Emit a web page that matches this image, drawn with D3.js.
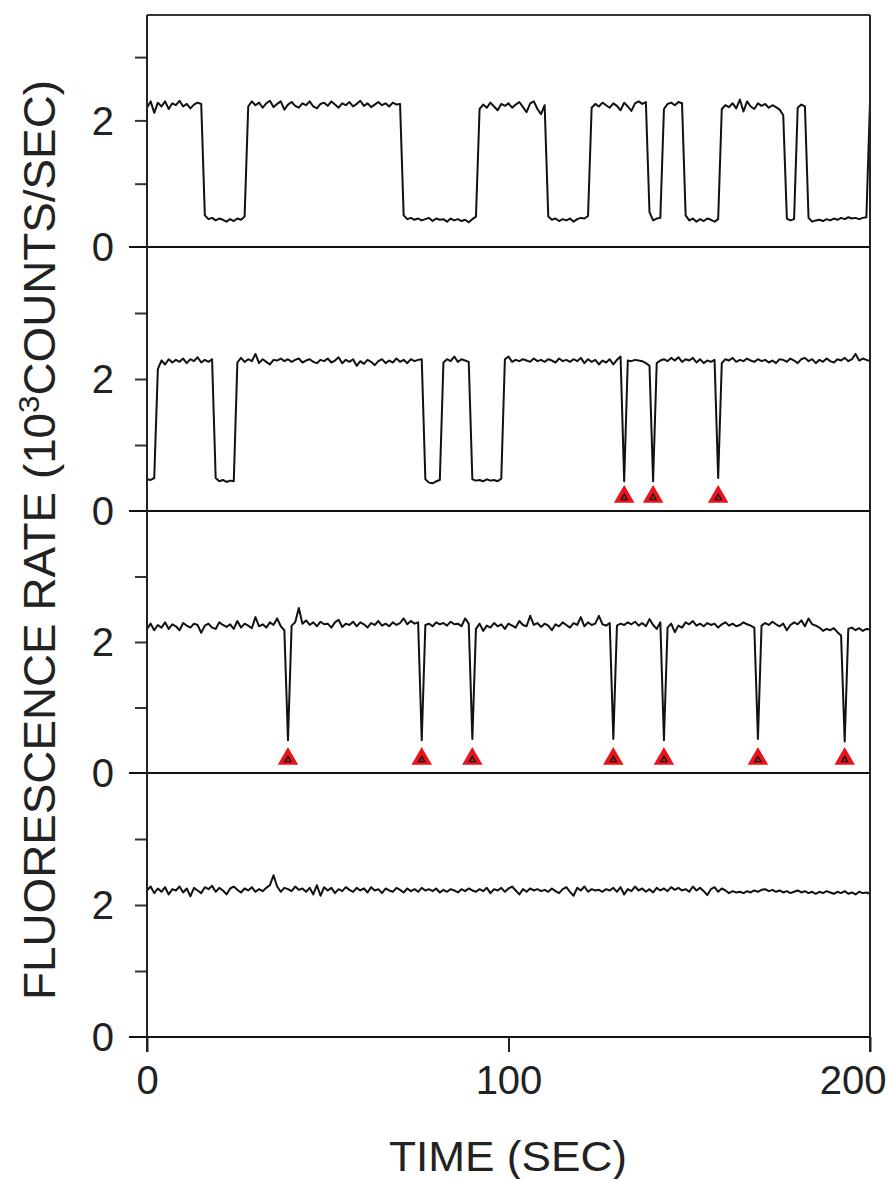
<!DOCTYPE html>
<html>
<head>
<meta charset="utf-8">
<script src="https://cdn.jsdelivr.net/npm/d3@7"></script>
<style>
  html, body { margin: 0; padding: 0; background: #fff; }
  svg { display: block; }
  text { font-family: "Liberation Sans", Arial, sans-serif; fill: #222; }
</style>
</head>
<body>
<svg id="chart" width="888" height="1179"></svg>
<script>
// Time axis (seconds), one sample per second
const timeTicks = [0, 100, 200];
const yTickLabels = { 0: "0", 2: "2" };

// Fluorescence traces, 10^3 counts/sec, t = 0..200 s
const trace1 = [
  2.20,2.30,2.12,2.28,2.22,2.30,2.18,2.27,2.24,2.31,2.22,2.26,2.19,2.25,2.28,2.26,
  0.50,0.44,0.46,0.42,0.45,0.43,0.40,0.44,0.41,0.45,0.43,0.48,
  2.22,2.30,2.24,2.28,2.20,2.27,2.31,2.21,2.26,2.30,2.17,2.25,2.29,2.23,2.20,2.27,
  2.24,2.30,2.22,2.19,2.26,2.28,2.23,2.30,2.25,2.20,2.27,2.24,2.29,2.22,2.26,2.31,
  2.23,2.27,2.21,2.25,2.29,2.24,2.27,2.22,2.28,2.25,2.26,
  0.50,0.44,0.46,0.43,0.45,0.42,0.44,0.46,0.41,0.45,0.43,0.44,0.40,0.45,0.42,0.44,
  0.41,0.43,0.39,0.44,0.48,
  2.18,2.25,2.20,2.28,2.22,2.16,2.26,2.23,2.27,2.20,2.25,2.29,2.21,2.13,2.27,2.30,
  2.18,2.10,2.24,
  0.48,0.43,0.45,0.41,0.44,0.42,0.45,0.40,0.44,0.46,0.45,0.49,
  2.20,2.26,2.22,2.28,2.24,2.20,2.27,2.23,2.16,2.28,2.22,2.15,2.27,2.30,2.26,2.29,
  0.55,0.42,0.45,0.46,
  2.18,2.26,2.28,2.24,2.29,2.27,
  0.50,0.42,0.45,0.40,0.44,0.41,0.45,0.43,0.40,0.44,
  2.18,2.24,2.21,2.27,2.19,2.33,2.14,2.30,2.22,2.18,2.27,2.23,2.26,2.20,2.24,2.21,
  2.17,2.08,
  0.45,0.42,0.44,
  2.20,2.25,2.22,
  0.46,0.40,0.42,0.43,0.41,0.44,0.42,0.45,0.43,0.46,0.44,0.47,0.45,0.46,0.44,0.46,
  0.47,
  2.30
];

const trace2 = [
  0.48,0.47,0.50,
  2.15,2.28,2.22,2.30,2.25,2.29,2.26,2.31,2.24,2.30,2.27,2.33,2.25,2.29,2.26,2.30,
  0.50,0.45,0.47,0.44,0.46,0.45,
  2.25,2.32,2.26,2.30,2.27,2.38,2.24,2.30,2.26,2.22,2.29,2.28,2.31,2.27,2.30,2.26,
  2.29,2.31,2.25,2.28,2.30,2.26,2.24,2.29,2.27,2.31,2.25,2.28,2.33,2.24,2.29,2.26,
  2.30,2.20,2.27,2.23,2.29,2.26,2.21,2.27,2.30,2.24,2.28,2.25,2.31,2.26,2.29,2.24,
  2.30,2.27,2.29,2.30,
  0.48,0.43,0.42,0.45,0.47,
  2.25,2.30,2.27,2.34,2.26,2.30,2.28,2.26,
  0.48,0.46,0.47,0.45,0.48,0.46,0.47,0.45,0.49,
  2.30,2.34,2.26,2.29,2.27,2.30,2.28,2.26,2.31,2.27,2.29,2.26,2.30,2.28,2.25,2.31,
  2.27,2.29,2.26,2.30,2.27,2.32,2.24,2.30,2.26,2.29,2.22,2.28,2.25,2.30,2.22,2.29,
  2.34,
  0.45,
  2.28,2.27,2.29,2.28,2.27,2.24,2.20,
  0.45,
  2.24,2.28,2.30,2.27,2.32,2.28,2.33,2.26,2.30,2.28,2.32,2.25,2.30,2.24,2.28,2.26,
  2.29,
  0.50,
  2.24,2.30,2.28,2.32,2.26,2.29,2.27,2.31,2.28,2.26,2.30,2.27,2.29,2.25,2.28,2.24,
  2.30,2.29,2.26,2.31,2.28,2.24,2.30,2.32,2.27,2.30,2.24,2.29,2.26,2.31,2.27,2.25,
  2.30,2.28,2.32,2.27,2.30,2.38,2.28,2.31,2.29,2.27
];

const trace3 = [
  2.20,2.28,2.18,2.26,2.22,2.30,2.20,2.27,2.24,2.18,2.29,2.25,2.22,2.28,2.26,2.14,
  2.25,2.28,2.22,2.20,2.30,2.26,2.23,2.27,2.20,2.32,2.22,2.28,2.25,2.21,2.38,2.24,
  2.27,2.22,2.30,2.26,2.36,2.24,2.18,
  0.50,
  2.25,2.30,2.52,2.28,2.33,2.26,2.30,2.24,2.31,2.27,2.28,2.22,2.30,2.34,2.23,2.28,
  2.26,2.31,2.24,2.30,2.27,2.22,2.29,2.26,2.32,2.25,2.28,2.24,2.30,2.26,2.29,2.36,
  2.27,2.32,2.28,2.30,
  0.50,
  2.26,2.28,2.24,2.30,2.27,2.29,2.25,2.31,2.27,2.28,2.24,2.36,2.28,
  0.52,
  2.20,2.28,2.17,2.25,2.22,2.29,2.24,2.27,2.20,2.28,2.25,2.22,2.32,2.26,2.24,2.40,
  2.26,2.29,2.23,2.28,2.25,2.18,2.27,2.24,2.30,2.26,2.22,2.29,2.26,2.38,2.24,2.30,
  2.26,2.28,2.40,2.27,2.25,2.29,
  0.52,
  2.25,2.28,2.26,2.30,2.27,2.31,2.25,2.29,2.24,2.35,2.26,2.20,2.30,
  0.50,
  2.22,2.28,2.15,2.25,2.22,2.30,2.27,2.32,2.25,2.28,2.24,2.29,2.26,2.28,2.22,2.27,
  2.30,2.25,2.28,2.24,2.26,2.30,2.27,2.25,2.22,
  0.52,
  2.25,2.29,2.26,2.31,2.27,2.24,2.28,2.18,2.26,2.30,2.27,2.33,2.24,2.36,2.27,2.25,
  2.22,2.17,2.20,2.18,2.21,2.15,2.10,
  0.48,
  2.20,2.22,2.18,2.21,2.17,2.20,2.19
];

const trace4 = [
  2.22,2.28,2.18,2.25,2.20,2.27,2.16,2.24,2.22,2.28,2.19,2.25,2.13,2.26,2.22,2.18,
  2.27,2.24,2.29,2.20,2.26,2.22,2.16,2.25,2.28,2.23,2.19,2.25,2.22,2.27,2.20,2.24,
  2.21,2.26,2.30,2.45,2.28,2.20,2.26,2.24,2.21,2.28,2.23,2.25,2.20,2.26,2.16,2.30,
  2.14,2.27,2.22,2.26,2.18,2.24,2.21,2.27,2.23,2.20,2.26,2.22,2.25,2.19,2.27,2.22,
  2.24,2.18,2.25,2.22,2.20,2.26,2.23,2.19,2.25,2.21,2.24,2.20,2.26,2.22,2.24,2.21,
  2.25,2.19,2.23,2.20,2.24,2.22,2.19,2.24,2.21,2.25,2.22,2.20,2.24,2.21,2.26,2.18,
  2.24,2.22,2.26,2.20,2.25,2.28,2.22,2.16,2.24,2.20,2.25,2.22,2.24,2.21,2.23,2.20,
  2.25,2.21,2.18,2.24,2.27,2.20,2.14,2.26,2.22,2.28,2.20,2.24,2.22,2.23,2.20,2.24,
  2.22,2.26,2.20,2.27,2.16,2.24,2.21,2.28,2.22,2.25,2.20,2.24,2.19,2.26,2.22,2.25,
  2.21,2.27,2.23,2.26,2.22,2.24,2.20,2.28,2.22,2.26,2.21,2.15,2.24,2.27,2.20,2.25,
  2.22,2.18,2.21,2.19,2.20,2.18,2.21,2.19,2.22,2.20,2.23,2.24,2.21,2.23,2.20,2.22,
  2.19,2.21,2.18,2.20,2.22,2.19,2.21,2.18,2.20,2.17,2.20,2.18,2.21,2.19,2.17,2.20,
  2.18,2.21,2.17,2.19,2.16,2.20,2.18,2.19,2.17
];

// Marked single-step events (time in s)
const marks2 = [132, 140, 158];
const marks3 = [39, 76, 90, 129, 143, 169, 193];
const markLevel = 0.2;

const traces = [trace1, trace2, trace3, trace4];
const marks = [[], marks2, marks3, []];

// Panel geometry: zero line, top edge and visible maximum for each strip
const panels = [
  { zero: 247, top: 15,  max: 3.665 },
  { zero: 511, top: 247, max: 4 },
  { zero: 773, top: 511, max: 4 },
  { zero: 1037, top: 773, max: 4 }
];

const svg = d3.select("#chart");
const xLeft = 147, xRight = 870;
const x = d3.scaleLinear().domain([0, 200]).range([xLeft, xRight]);

panels.forEach((p, i) => {
  const y = d3.scaleLinear().domain([0, p.max]).range([p.zero, p.top]);
  const g = svg.append("g");

  // left axis with minor ticks; only 0 and 2 carry labels
  const ticks = [1, 2, 3].filter(v => v < p.max);
  const axis = d3.axisLeft(y)
    .tickValues(ticks)
    .tickSize(12)
    .tickPadding(22)
    .tickFormat(() => "");
  const ag = g.append("g").attr("transform", `translate(${xLeft},0)`).call(axis);
  ag.select(".domain").remove();
  ag.selectAll(".tick line").attr("stroke", "#333").attr("stroke-width", 2);

  // tick labels
  [0, 2].forEach(v => {
    g.append("text")
      .attr("x", 114)
      .attr("y", y(v))
      .attr("dy", "0.36em")
      .attr("text-anchor", "end")
      .attr("font-size", 40)
      .text(yTickLabels[v]);
  });

  // zero line running the full width, extending left as the 0 tick
  g.append("line")
    .attr("x1", 129).attr("x2", xRight)
    .attr("y1", y(0)).attr("y2", y(0))
    .attr("stroke", "#111").attr("stroke-width", 2);

  // trace
  const line = d3.line()
    .x((d, t) => x(t))
    .y(d => y(d));
  g.append("path")
    .datum(traces[i])
    .attr("d", line)
    .attr("fill", "none")
    .attr("stroke", "#111")
    .attr("stroke-width", 2)
    .attr("stroke-linejoin", "round");

  // event markers
  const tri = d3.symbol().type(d3.symbolTriangle);
  marks[i].forEach(t => {
    const cx = x(t), cy = y(markLevel) - 1;
    g.append("path")
      .attr("d", tri.size(140)())
      .attr("transform", `translate(${cx},${cy})`)
      .attr("fill", "#e8141c")
      .attr("stroke", "#e8141c")
      .attr("stroke-width", 1.5);
    g.append("path")
      .attr("d", tri.size(16)())
      .attr("transform", `translate(${cx},${cy + 1})`)
      .attr("fill", "none")
      .attr("stroke", "#111")
      .attr("stroke-width", 1.3);
  });
});

// frame: left axis, right edge, top edge
svg.append("line")
  .attr("x1", xLeft).attr("x2", xLeft)
  .attr("y1", 15).attr("y2", 1052)
  .attr("stroke", "#222").attr("stroke-width", 2);
svg.append("line")
  .attr("x1", xRight).attr("x2", xRight)
  .attr("y1", 15).attr("y2", 1052)
  .attr("stroke", "#222").attr("stroke-width", 2);
svg.append("line")
  .attr("x1", xLeft).attr("x2", xRight)
  .attr("y1", 15).attr("y2", 15)
  .attr("stroke", "#333").attr("stroke-width", 2);

// time axis
const xAxis = d3.axisBottom(x)
  .tickValues(timeTicks)
  .tickSize(15)
  .tickPadding(14)
  .tickFormat(d3.format("d"));
const xg = svg.append("g").attr("transform", "translate(0,1037)").call(xAxis);
xg.select(".domain").remove();
xg.selectAll(".tick line").attr("stroke", "#222").attr("stroke-width", 2);
xg.selectAll(".tick text")
  .attr("font-size", 40)
  .attr("font-family", "Liberation Sans, Arial, sans-serif")
  .attr("fill", "#222");
// last label sits flush against the right edge of the page
xg.selectAll(".tick text")
  .filter(d => d === 200)
  .attr("text-anchor", "end")
  .attr("x", 886 - xRight);

// axis titles
svg.append("text")
  .attr("x", 508)
  .attr("y", 1171)
  .attr("text-anchor", "middle")
  .attr("font-size", 42)
  .attr("textLength", 238)
  .attr("lengthAdjust", "spacingAndGlyphs")
  .text("TIME (SEC)");

const yTitle = svg.append("text")
  .attr("transform", "translate(55,540) rotate(-90)")
  .attr("text-anchor", "middle")
  .attr("font-size", 44)
  .attr("textLength", 920)
  .attr("lengthAdjust", "spacingAndGlyphs");
yTitle.append("tspan").text("FLUORESCENCE RATE (10");
yTitle.append("tspan").attr("font-size", 30).attr("dy", -16).text("3");
yTitle.append("tspan").attr("dy", 16).text("COUNTS/SEC)");
</script>
</body>
</html>
